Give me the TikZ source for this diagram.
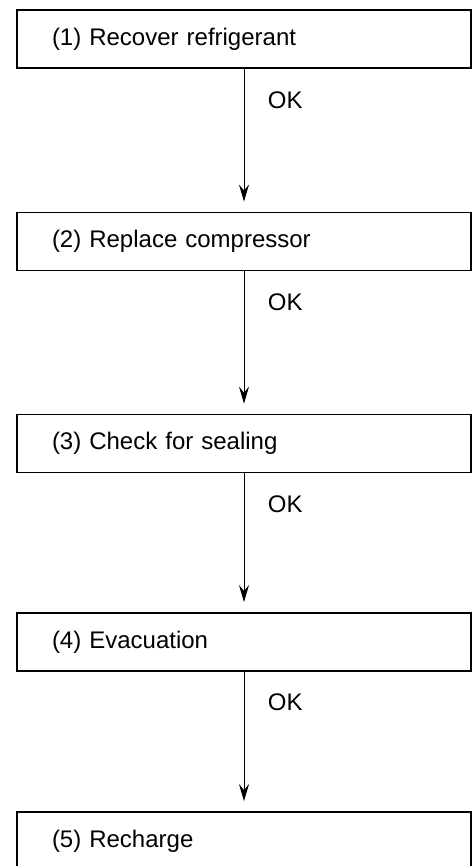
\documentclass[tikz,border=0pt]{standalone}
\usepackage{fontspec}
\setmainfont{Liberation Sans}
\usetikzlibrary{arrows.meta,positioning}

\begin{document}
\begin{tikzpicture}[
  x=1pt, y=1pt,
  stepbox/.style={
    rectangle, draw, line width=1.7pt,
    minimum width=454pt, minimum height=58pt,
    text width=384pt, inner xsep=35pt, align=left,
    font=\fontsize{24}{28}\selectfont
  },
  arr/.style={-{Stealth[length=17pt,width=10pt,inset=6pt]}, line width=1pt, shorten >=10pt},
  oklabel/.style={anchor=west, xshift=20pt, font=\fontsize{24}{28}\selectfont}
]
\useasboundingbox (0,0) rectangle (474,-866);

\node[stepbox] (s1) at (244,-39)    {(1) Recover refrigerant};
\node[stepbox] (s2) at (244,-241.4) {(2) Replace compressor};
\node[stepbox] (s3) at (244,-443.5) {(3) Check for sealing};
\node[stepbox] (s4) at (244,-641.9) {(4) Evacuation};
\node[stepbox] (s5) at (244,-841)   {(5) Recharge};

\draw[arr] (s1.south) -- node[oklabel, pos=0.22] (ok1) {OK} (s2.north);
\draw[arr] (s2.south) -- node[oklabel, pos=0.22] (ok2) {OK} (s3.north);
\draw[arr] (s3.south) -- node[oklabel, pos=0.22] (ok3) {OK} (s4.north);
\draw[arr] (s4.south) -- node[oklabel, pos=0.22] (ok4) {OK} (s5.north);

\end{tikzpicture}
\end{document}
